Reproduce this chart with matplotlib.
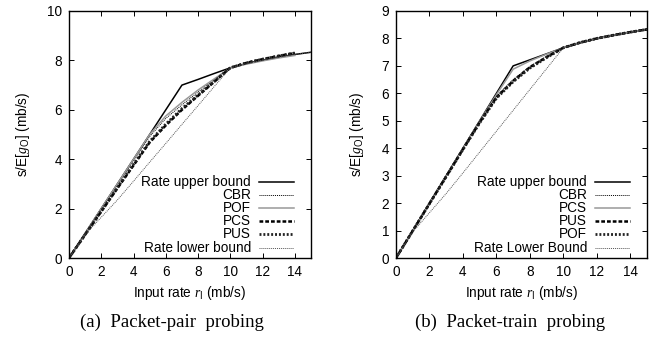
import matplotlib
matplotlib.use("Agg")
import matplotlib.pyplot as plt
from matplotlib.lines import Line2D

plt.rcParams['font.family'] = ['Liberation Sans', 'DejaVu Sans']
plt.rcParams['mathtext.fontset'] = 'custom'
plt.rcParams['mathtext.rm'] = 'Liberation Sans'
plt.rcParams['mathtext.it'] = 'Liberation Serif:italic'

# ---------------- data ----------------
x15 = list(range(0, 16))
x14 = list(range(0, 15))

# panel (a) packet-pair probing
a_upper = [0, 1, 2, 3, 4, 5, 6, 7.0, 7.23, 7.47, 7.7, 7.87, 8.01, 8.13, 8.24, 8.33]
a_cbr = [0, 1.0, 2.0, 2.97, 3.95, 4.92, 5.65, 6.2, 6.72, 7.22, 7.7, 7.88, 8.03, 8.16, 8.27]
a_pof = [0, 1.0, 2.0, 3.0, 4.0, 5.0, 5.75, 6.3, 6.8, 7.25, 7.7, 7.85, 7.98, 8.1, 8.2]
a_pcs = [0, 0.94, 1.88, 2.82, 3.75, 4.68, 5.37, 6.0, 6.57, 7.13, 7.7, 7.9, 8.05, 8.18, 8.3]
a_pus = [0, 0.95, 1.9, 2.85, 3.8, 4.72, 5.42, 6.05, 6.6, 7.15, 7.7, 7.9, 8.05, 8.18, 8.3]
a_lower = [0, 0.95, 1.65, 2.35, 3.11, 3.88, 4.64, 5.41, 6.17, 6.94, 7.7, 7.87, 8.01, 8.13, 8.24, 8.33]

# panel (b) packet-train probing
b_upper = [0, 1, 2, 3, 4, 5, 6, 7.0, 7.22, 7.44, 7.66, 7.84, 7.99, 8.12, 8.23, 8.33]
b_cbr = [0, 1.0, 2.0, 3.0, 3.99, 4.97, 5.9, 6.5, 6.98, 7.35, 7.66, 7.85, 8.0, 8.12, 8.23, 8.33]
b_pcs = [0, 1.0, 2.0, 3.0, 4.0, 4.98, 5.95, 6.88, 7.18, 7.43, 7.66, 7.84, 7.99, 8.12, 8.23, 8.33]
b_pus = [0, 0.99, 1.98, 2.97, 3.96, 4.94, 5.85, 6.45, 6.95, 7.32, 7.66, 7.85, 8.0, 8.12, 8.23, 8.33]
b_pof = [0, 0.99, 1.98, 2.96, 3.95, 4.92, 5.82, 6.42, 6.92, 7.3, 7.66, 7.85, 8.0, 8.12, 8.23, 8.33]
b_lower = [0, 0.95, 1.65, 2.35, 3.1, 3.86, 4.62, 5.38, 6.14, 6.9, 7.66, 7.84, 7.99, 8.12, 8.23, 8.33]

a_labels = ['Rate upper bound', 'CBR', 'POF', 'PCS', 'PUS', 'Rate lower bound']
b_labels = ['Rate upper bound', 'CBR', 'PCS', 'PUS', 'POF', 'Rate Lower Bound']
captions = ['(a)  Packet-pair  probing', '(b)  Packet-train  probing']

# ---------------- styles ----------------
s_upper = dict(color='black', lw=1.1, ls='-')
s_cbr = dict(color='black', lw=0.7, ls=(0, (1, 1)))
s_gray = dict(color='#999999', lw=1.1, ls='-')
s_dash = dict(color='black', lw=1.8, ls=(0, (1.5, 0.8)))
s_dot = dict(color='#222222', lw=2.0, ls=(0, (0.7, 0.7)))
s_lower = dict(color='#555555', lw=0.7, ls=(0, (1, 1)))

FS = 9.8
W, H = 651, 339
fig = plt.figure(figsize=(W / 100, H / 100), dpi=100)

def fx(px):
    return px / W

def fy(py):
    return 1 - py / H

axA = fig.add_axes([fx(69), fy(258), fx(311) - fx(69), fy(11) - fy(258)])
axB = fig.add_axes([fx(396), fy(258), fx(647) - fx(396), fy(11) - fy(258)])

a_series = [(x15, a_upper, s_upper), (x14, a_cbr, s_cbr), (x14, a_pof, s_gray),
            (x14, a_pcs, s_dash), (x14, a_pus, s_dot), (x15, a_lower, s_lower)]
b_series = [(x15, b_upper, s_upper), (x15, b_cbr, s_cbr), (x15, b_pcs, s_gray),
            (x15, b_pus, s_dash), (x15, b_pof, s_dot), (x15, b_lower, s_lower)]

def style_ax(ax, ymax):
    ax.set_xlim(0, 15)
    ax.set_ylim(0, ymax)
    ax.set_xticks(range(0, 15, 2))
    ax.set_yticks(range(0, ymax + 1, 2 if ymax == 10 else 1))
    ax.tick_params(direction='in', length=3.5, width=0.7, top=True, right=True,
                   labelsize=FS, pad=5, colors='black')
    for sp in ax.spines.values():
        sp.set_linewidth(1.0)
    ax.set_xlabel(r'Input rate $r_{\rm I}$ (mb/s)', fontsize=FS, labelpad=4)
    ax.set_ylabel(r's/E[$g_{\rm O}$] (mb/s)', fontsize=FS, labelpad=11)

def legend(labels, series, text_right, line_l, line_r):
    rows = [182, 195, 208, 221, 234, 248]
    for lab, (_, _, st), ry in zip(labels, series, rows):
        fig.text(fx(text_right), fy(ry), lab, ha='right', va='center', fontsize=FS)
        fig.add_artist(Line2D([fx(line_l), fx(line_r)], [fy(ry), fy(ry)], **st))

for ax, series, ymax in [(axA, a_series, 10), (axB, b_series, 9)]:
    for xs, ys, st in series:
        ax.plot(xs, ys, **st)
    style_ax(ax, ymax)

legend(a_labels, a_series, 251, 259, 294)
legend(b_labels, b_series, 587, 595, 630)

fig.text(fx(172), fy(322), captions[0], ha='center', va='center', fontsize=13.5,
         family='Liberation Serif')
fig.text(fx(510), fy(322), captions[1], ha='center', va='center', fontsize=13.5,
         family='Liberation Serif')

fig.savefig('out.png', dpi=100)
